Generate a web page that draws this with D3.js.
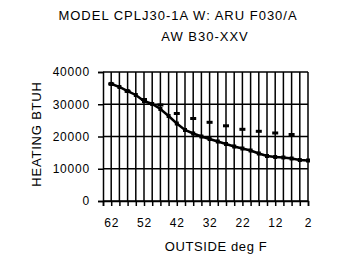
<!DOCTYPE html>
<html>
<head>
<meta charset="utf-8">
<script src="https://cdn.jsdelivr.net/npm/d3@7"></script>
<style>
  body { margin: 0; background: #fff; }
  text { font-family: "Liberation Sans", Arial, sans-serif; fill: #000; }
</style>
</head>
<body>
<div id="chart"></div>
<script>
var width = 339;
var height = 256;
var margin = {top: 72, left: 103, right: 31, bottom: 55};
var plotW = width - margin.left - margin.right;
var plotH = height - margin.top - margin.bottom;

// outside temperature categories (deg F), label on every 4th
var categories = [62, 59.5, 57, 54.5, 52, 49.5, 47, 44.5, 42, 39.5, 37, 34.5, 32,
                  29.5, 27, 24.5, 22, 19.5, 17, 14.5, 12, 9.5, 7, 4.5, 2];
// heating capacity, solid line
var heating = [36300, 35350, 34100, 32870, 31000, 30080, 28530, 26360, 24030, 22020,
               20930, 20000, 19220, 18450, 17670, 16900, 16280, 15660, 14730, 13950,
               13640, 13490, 13180, 12710, 12560];
// second series, dash markers only
var rated = [36300, null, 34000, null, 31470, null, 29770, null, 27130, null,
             25580, null, 24400, null, 23320, null, 22230, null, 21610, null,
             21090, null, 20620, null, null];
var yTicks = [0, 10000, 20000, 30000, 40000];
var titleLines = ['MODEL CPLJ30-1A W: ARU F030/A', 'AW B30-XXV'];

var canvas = d3.select('#chart')
   .append('svg')
   .attr('width', width)
   .attr('height', height)
   .style('background', '#fff');

var g = canvas.append('g')
   .attr('transform', 'translate(' + margin.left + ',' + margin.top + ')');

var xScale = d3.scaleLinear().domain([-1, categories.length - 1]).range([0, plotW]);
var yScale = d3.scaleLinear().domain([0, 40000]).range([plotH, 0]);

// vertical gridlines at every category
g.append('g')
  .selectAll('line')
  .data(categories)
  .enter()
  .append('line')
  .attr('x1', function(d, i){ return xScale(i); })
  .attr('x2', function(d, i){ return xScale(i); })
  .attr('y1', 0)
  .attr('y2', plotH)
  .attr('stroke', '#000')
  .attr('stroke-width', 1.5);

// horizontal gridlines
g.append('g')
  .selectAll('line')
  .data(yTicks)
  .enter()
  .append('line')
  .attr('x1', 0)
  .attr('x2', plotW)
  .attr('y1', function(d){ return yScale(d); })
  .attr('y2', function(d){ return yScale(d); })
  .attr('stroke', '#000')
  .attr('stroke-width', 1.5);

// axes
var xAxis = d3.axisBottom(xScale)
  .tickValues(d3.range(-1, categories.length))
  .tickSize(5)
  .tickPadding(12)
  .tickFormat(function(i){
    if (i < 0 || i % 4 != 0) return '';
    return categories[i];
  });
var yAxis = d3.axisLeft(yScale)
  .tickValues(yTicks)
  .tickSize(5)
  .tickPadding(8)
  .tickFormat(d3.format('d'));

var gx = g.append('g')
  .attr('transform', 'translate(0,' + plotH + ')')
  .call(xAxis);
var gy = g.append('g').call(yAxis);

[gx, gy].forEach(function(a){
  a.select('.domain').attr('stroke', '#000').attr('stroke-width', 1.5);
  a.selectAll('.tick line').attr('stroke', '#000').attr('stroke-width', 1.5);
  a.selectAll('.tick text')
    .style('font-size', '12px')
    .style('letter-spacing', '0.8px')
    .attr('fill', '#000');
});

// solid heating line
var line = d3.line()
  .x(function(d, i){ return xScale(i); })
  .y(function(d){ return yScale(d); });

g.append('path')
  .datum(heating)
  .attr('fill', 'none')
  .attr('stroke', '#000')
  .attr('stroke-width', 2.5)
  .attr('d', line);

g.append('g')
  .selectAll('rect')
  .data(heating)
  .enter()
  .append('rect')
  .attr('x', function(d, i){ return xScale(i) - 2; })
  .attr('y', function(d){ return yScale(d) - 2; })
  .attr('width', 4)
  .attr('height', 4)
  .attr('fill', '#000');

// dash markers
g.append('g')
  .selectAll('rect')
  .data(rated.map(function(v, i){ return {i: i, v: v}; }).filter(function(d){ return d.v != null; }))
  .enter()
  .append('rect')
  .attr('x', function(d){ return xScale(d.i) - 3; })
  .attr('y', function(d){ return yScale(d.v) - 1.5; })
  .attr('width', 6)
  .attr('height', 3)
  .attr('fill', '#000');

// title
canvas.append('g')
  .selectAll('text')
  .data(titleLines)
  .enter()
  .append('text')
  .text(function(d){ return d; })
  .attr('x', function(d, i){ return i == 0 ? 178 : 205; })
  .attr('y', function(d, i){ return 20 + i * 21; })
  .attr('text-anchor', 'middle')
  .style('font-size', '13px')
  .style('letter-spacing', '1px');

// axis titles
canvas.append('text')
  .text('HEATING BTUH')
  .attr('text-anchor', 'middle')
  .attr('transform', 'translate(41,' + 134 + ')rotate(-90)')
  .style('font-size', '13px')
  .style('letter-spacing', '0.8px');

canvas.append('text')
  .text('OUTSIDE deg F')
  .attr('text-anchor', 'middle')
  .attr('x', 216)
  .attr('y', 251)
  .style('font-size', '13px')
  .style('letter-spacing', '0.6px');
</script>
</body>
</html>
